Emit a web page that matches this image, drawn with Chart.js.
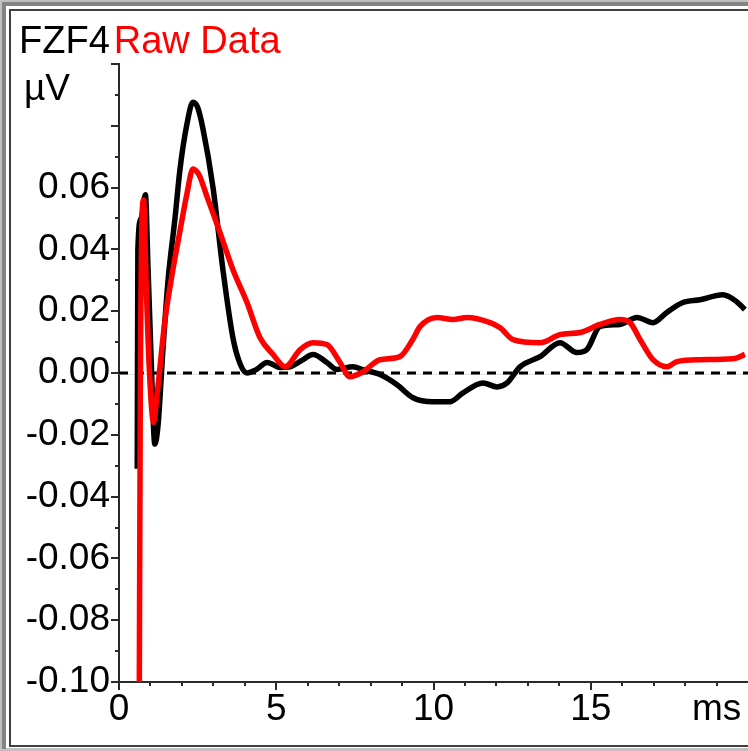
<!DOCTYPE html>
<html>
<head>
<meta charset="utf-8">
<title>FZF4 Raw Data</title>
<script src="https://cdn.jsdelivr.net/npm/chart.js@4.4.1/dist/chart.umd.min.js"></script>
<style>
  html, body { margin: 0; padding: 0; background: #fff; }
  #wrap { position: relative; width: 748px; height: 751px; }
</style>
</head>
<body>
<div id="wrap"><canvas id="c" width="748" height="751"></canvas></div>
<script>
// Time axis (ms) and amplitude (µV) for the averaged FZF4 trace
const fzTime = [0.58, 0.60, 0.70, 0.84, 0.92, 1.02, 1.14, 1.24, 1.40, 1.56,
  1.78, 1.94, 2.15, 2.35, 2.50, 2.67, 2.99, 3.31, 3.63, 3.85,
  4.07, 4.35, 4.71, 5.12, 5.44, 5.80, 6.17, 6.61, 6.93, 7.44,
  7.76, 8.30, 8.84, 9.35, 9.98, 10.52, 10.94, 11.57, 12.02, 12.34,
  12.75, 13.39, 14.02, 14.56, 14.88, 15.29, 15.93, 16.47, 16.98, 17.42,
  17.93, 18.47, 19.20, 19.65, 19.90];
const fzValues = [-0.031, 0.040, 0.050, 0.0577, 0.035, 0.005, -0.023, -0.017, 0.008, 0.030,
  0.050, 0.066, 0.080, 0.0876, 0.086, 0.079, 0.060, 0.033, 0.011, 0.003,
  0.0, 0.001, 0.0034, 0.0018, 0.002, 0.004, 0.006, 0.0034, 0.0011, 0.002,
  0.0011, -0.0005, -0.0038, -0.008, -0.0093, -0.0093, -0.0064, -0.0032, -0.0045, -0.0032,
  0.002, 0.0053, 0.0098, 0.0066, 0.0076, 0.015, 0.0157, 0.018, 0.0163, 0.0196,
  0.0228, 0.0237, 0.0253, 0.023, 0.0205];

// Raw (unfiltered) trace
const rawTime = [0.64, 0.68, 0.78, 0.86, 0.96, 1.10, 1.20, 1.46, 1.69, 1.94,
  2.16, 2.35, 2.55, 2.80, 3.21, 3.62, 4.07, 4.48, 4.90, 5.28,
  5.76, 6.17, 6.61, 7.03, 7.34, 7.76, 8.30, 8.93, 9.35, 9.57,
  10.11, 10.62, 11.07, 11.80, 12.11, 12.53, 13.39, 14.02, 14.66, 15.29,
  15.93, 16.25, 16.57, 16.98, 17.42, 17.74, 18.47, 19.52, 19.90];
const rawValues = [-0.12, 0.0, 0.056, 0.030, 0.002, -0.016, -0.008, 0.017, 0.032, 0.046,
  0.058, 0.066, 0.064, 0.057, 0.0455, 0.0335, 0.0228, 0.0115, 0.006, 0.002,
  0.0076, 0.0098, 0.0092, 0.0034, -0.0012, 0.0004, 0.0043, 0.0053, 0.011, 0.015,
  0.018, 0.0173, 0.018, 0.0163, 0.0147, 0.0108, 0.0098, 0.0124, 0.0131, 0.0157,
  0.0173, 0.0163, 0.0108, 0.0043, 0.002, 0.0037, 0.0043, 0.0046, 0.006];

// Axis labelling
const xMajorLabels = [0, 5, 10, 15];
const xUnitLabel = 'ms';
const yUnitLabel = 'µV';
const yLabelledTicks = [-0.10, -0.08, -0.06, -0.04, -0.02, 0.00, 0.02, 0.04, 0.06];
const channelName = 'FZF4';
const seriesName = 'Raw Data';

const FONT = '"Liberation Sans", Arial, sans-serif';
const toPoints = (ts, vs) => ts.map((t, i) => ({ x: t, y: vs[i] }));

// Window frame, zero line, tick marks and header text
const decor = {
  id: 'decor',
  beforeDraw(chart) {
    const ctx = chart.ctx;
    const W = chart.width, H = chart.height;
    ctx.save();
    ctx.fillStyle = '#ffffff';
    ctx.fillRect(0, 0, W, H);
    // sunken frame
    ctx.fillStyle = '#c0c0c0';
    ctx.fillRect(0, 0, W, 2);
    ctx.fillRect(0, 0, 2, H);
    ctx.fillRect(0, H - 3, W, 3);
    ctx.fillStyle = '#848484';
    ctx.fillRect(2, 2, W, 4);
    ctx.fillRect(2, 2, 4, H - 4);
    ctx.fillStyle = '#404040';
    ctx.fillRect(9, 9, W, 2);
    ctx.fillRect(9, 9, 2, H - 13);
    ctx.fillRect(9, H - 6, W, 2);
    ctx.restore();
  },
  beforeDatasetsDraw(chart) {
    const ctx = chart.ctx;
    const a = chart.chartArea;
    const y0 = Math.round(chart.scales.y.getPixelForValue(0));
    ctx.save();
    ctx.strokeStyle = '#e2e2e2';
    ctx.lineWidth = 1;
    ctx.beginPath();
    ctx.moveTo(a.left, y0 + 1.5);
    ctx.lineTo(a.right, y0 + 1.5);
    ctx.stroke();
    ctx.strokeStyle = '#000';
    ctx.lineWidth = 3;
    ctx.setLineDash([9, 7]);
    ctx.beginPath();
    ctx.moveTo(a.left, y0);
    ctx.lineTo(a.right, y0);
    ctx.stroke();
    ctx.restore();
  },
  afterDraw(chart) {
    const ctx = chart.ctx;
    const a = chart.chartArea;
    const xs = chart.scales.x, ys = chart.scales.y;
    ctx.save();
    ctx.strokeStyle = '#2a2a2a';
    ctx.lineWidth = 2;
    // y tick marks: every 0.01, longer at every 0.02
    for (let i = -10; i <= 10; i++) {
      const py = Math.round(ys.getPixelForValue(i / 100));
      const len = (i % 2 === 0) ? 8 : 4;
      ctx.beginPath();
      ctx.moveTo(a.left - len, py);
      ctx.lineTo(a.left, py);
      ctx.stroke();
    }
    // x tick marks: every 1 ms, longer at every 5 ms
    for (let t = 0; t <= 19; t++) {
      const px = Math.round(xs.getPixelForValue(t));
      const len = (t % 5 === 0) ? 8 : 4;
      ctx.beginPath();
      ctx.moveTo(px, a.bottom);
      ctx.lineTo(px, a.bottom + len);
      ctx.stroke();
    }
    // header and unit
    ctx.font = '38px ' + FONT;
    ctx.textBaseline = 'alphabetic';
    ctx.textAlign = 'left';
    ctx.fillStyle = '#000';
    ctx.fillText(channelName, 19, 53);
    const w = ctx.measureText(channelName).width;
    ctx.fillStyle = '#ff0000';
    ctx.fillText(seriesName, 19 + w + 4, 53);
    ctx.fillStyle = '#000';
    ctx.font = '37px ' + FONT;
    ctx.fillText(yUnitLabel, 24, 100);
    ctx.restore();
  }
};

new Chart(document.getElementById('c'), {
  type: 'line',
  data: {
    datasets: [
      {
        label: seriesName,
        data: toPoints(rawTime, rawValues),
        borderColor: '#ff0000',
        borderWidth: 5.5,
        pointRadius: 0,
        cubicInterpolationMode: 'monotone',
        fill: false,
        clip: 0
      },
      {
        label: channelName,
        data: toPoints(fzTime, fzValues),
        borderColor: '#000000',
        borderWidth: 5.5,
        pointRadius: 0,
        cubicInterpolationMode: 'monotone',
        fill: false,
        clip: 0
      }
    ]
  },
  options: {
    responsive: false,
    animation: false,
    devicePixelRatio: 1,
    layout: { padding: { top: 64, left: 0, right: 0, bottom: 0 } },
    plugins: { legend: { display: false }, tooltip: { enabled: false }, title: { display: false } },
    scales: {
      x: {
        type: 'linear',
        min: 0,
        max: 20,
        grid: { display: false, drawTicks: false },
        border: { display: true, color: '#2a2a2a', width: 2 },
        ticks: {
          stepSize: 1,
          autoSkip: false,
          maxRotation: 0,
          padding: 6,
          color: '#000',
          font: { family: FONT, size: 37 },
          callback: (v) => {
            if (xMajorLabels.includes(v)) return String(v);
            if (v === 19) return xUnitLabel;
            return null;
          }
        },
        afterFit: (s) => { s.height = 69; }
      },
      y: {
        type: 'linear',
        min: -0.10,
        max: 0.10,
        grid: { display: false, drawTicks: false },
        border: { display: true, color: '#2a2a2a', width: 2 },
        ticks: {
          stepSize: 0.01,
          autoSkip: false,
          padding: 9,
          color: '#000',
          font: { family: FONT, size: 37 },
          callback: (v) => {
            const hit = yLabelledTicks.find(t => Math.abs(t - v) < 1e-6);
            return hit === undefined ? null : hit.toFixed(2);
          }
        },
        afterFit: (s) => { s.width = 119; }
      }
    }
  },
  plugins: [decor]
});
</script>
</body>
</html>
